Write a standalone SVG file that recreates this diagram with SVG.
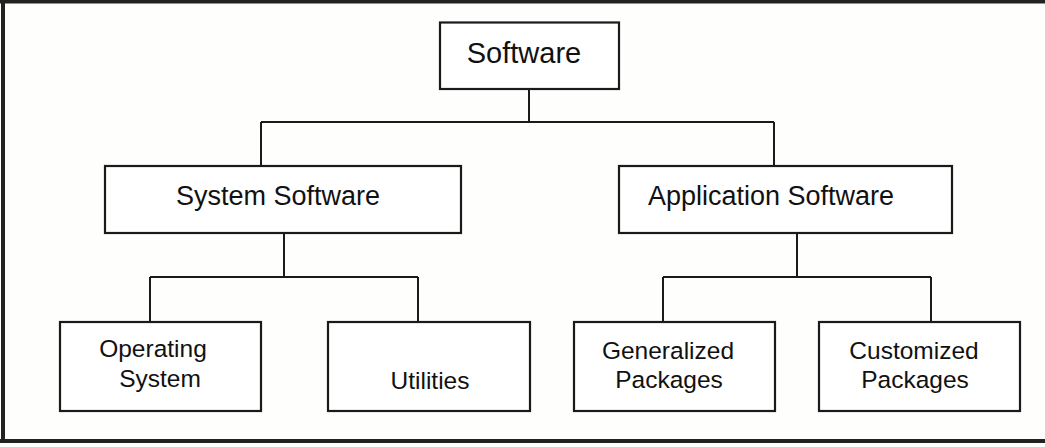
<svg xmlns="http://www.w3.org/2000/svg" width="1045" height="447" viewBox="0 0 1045 447">
<style>
.box{fill:#fff;stroke:#1a1a1a;stroke-width:2.2}
.t{font-family:"Liberation Sans",Arial,sans-serif;font-size:27px;fill:#111;text-anchor:middle}
.s{font-size:24.5px}
.c{fill:none;stroke:#1a1a1a;stroke-width:2}
.frame{stroke:#222;stroke-width:4;fill:none}
</style>
<rect x="0" y="0" width="1045" height="447" fill="#fefefc"/>
<g id="frame">
<line class="frame" x1="0" y1="1.5" x2="1045" y2="1.5"/>
<line class="frame" x1="3" y1="0" x2="3" y2="443"/>
<line class="frame" x1="0" y1="441" x2="1045" y2="441"/>
</g>
<g id="connectors">
<path class="c" d="M529 89 V122 M261 122 H774 M261 122 V166 M774 122 V166"/>
<path class="c" d="M284 233 V277 M150 277 H418 M150 277 V322 M418 277 V322"/>
<path class="c" d="M797 233 V277 M663 277 H931 M663 277 V322 M931 277 V322"/>
</g>
<g id="software">
<rect class="box" x="440" y="22.5" width="179" height="66.5"/>
<text class="t" x="524" y="62.5" style="font-size:29px">Software</text>
</g>
<g id="system-software">
<rect class="box" x="105" y="166" width="356" height="67"/>
<text class="t" x="278" y="205">System Software</text>
</g>
<g id="application-software">
<rect class="box" x="619" y="166" width="333" height="67"/>
<text class="t" x="771" y="205">Application Software</text>
</g>
<g id="operating-system">
<rect class="box" x="60" y="322" width="201" height="89"/>
<text class="t s" x="153" y="357">Operating</text>
<text class="t s" x="160" y="387">System</text>
</g>
<g id="utilities">
<rect class="box" x="328" y="322" width="202" height="89"/>
<text class="t s" x="430" y="389">Utilities</text>
</g>
<g id="generalized-packages">
<rect class="box" x="574" y="322" width="201" height="89"/>
<text class="t s" x="668" y="359">Generalized</text>
<text class="t s" x="669" y="388">Packages</text>
</g>
<g id="customized-packages">
<rect class="box" x="819" y="322" width="201" height="89"/>
<text class="t s" x="914" y="359">Customized</text>
<text class="t s" x="915" y="388">Packages</text>
</g>
</svg>
